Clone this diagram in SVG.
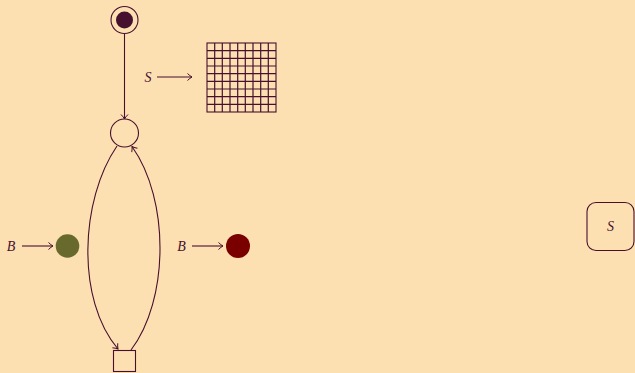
<svg xmlns="http://www.w3.org/2000/svg" width="635" height="373" viewBox="0 0 635 373">
<style>
.ln{fill:none;stroke:#47102f;stroke-width:1.1}
.lb{font-family:"Liberation Serif",serif;font-style:italic;font-size:14px;fill:#47102f}
.gr{stroke:#47102f;stroke-width:1.2}
</style>
<defs>
<marker id="ar" markerWidth="10" markerHeight="10" refX="6" refY="5" orient="auto" markerUnits="userSpaceOnUse">
<path d="M1.5,1.5 Q4,4 6,5 Q4,6 1.5,8.5" fill="none" stroke="#47102f" stroke-width="1"/>
</marker>
</defs>
<rect width="635" height="373" fill="#fde0b2"/>
<g id="start">
<circle cx="124.5" cy="20" r="13.5" class="ln"/>
<circle cx="124.5" cy="20" r="8.5" fill="#47102f"/>
</g>
<g id="mid">
<circle cx="124.5" cy="133" r="14" class="ln"/>
</g>
<g id="sq">
<rect x="113.5" y="350.5" width="22" height="21" class="ln"/>
</g>
<g id="green">
<circle cx="67.5" cy="246" r="11.8" fill="#676a2c"/>
</g>
<g id="red">
<circle cx="238" cy="246" r="12" fill="#7a0000"/>
</g>
<g id="grid">
<rect x="207" y="43" width="69" height="69" class="ln" stroke-width="1.3"/>
<path class="gr" d="M214.7,43V112M222.3,43V112M230,43V112M237.7,43V112M245.3,43V112M253,43V112M260.7,43V112M268.3,43V112M207,50.7H276M207,58.3H276M207,66H276M207,73.7H276M207,81.3H276M207,89H276M207,96.7H276M207,104.3H276"/>
</g>
<g id="box">
<rect x="587" y="202.5" width="47" height="48" rx="9" class="ln"/>
<text x="610.5" y="231" class="lb" text-anchor="middle">S</text>
</g>
<g id="connectors">
<path class="ln" d="M124.5,33.5V119" marker-end="url(#ar)"/>
<path class="ln" d="M117,146 C80,200 76,300 118,349" marker-end="url(#ar)"/>
<path class="ln" d="M131,350 C169,300 170,200 132,146.5" marker-end="url(#ar)"/>
<path class="ln" d="M157,77H192" marker-end="url(#ar)"/>
<path class="ln" d="M22,246H53" marker-end="url(#ar)"/>
<path class="ln" d="M192,246H223" marker-end="url(#ar)"/>
<text x="148" y="82" class="lb" text-anchor="middle">S</text>
<text x="11" y="251" class="lb" text-anchor="middle">B</text>
<text x="181.5" y="251" class="lb" text-anchor="middle">B</text>
</g>
</svg>
